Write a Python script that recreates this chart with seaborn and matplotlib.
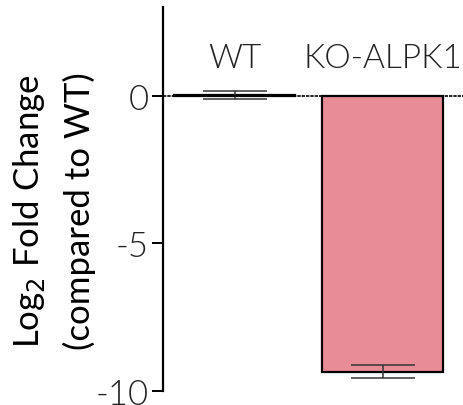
import matplotlib
matplotlib.use("Agg")
import matplotlib.pyplot as plt
import pandas as pd
import seaborn as sns

groups = ["WT", "KO-ALPK1"]
log2_fc = [0.03, -9.35]
err = [0.14, 0.22]
bar_colors = ["#ffffff", "#e88d98"]

sns.set_style("ticks")
plt.rcParams["font.family"] = ["Lato", "DejaVu Sans"]
plt.rcParams["text.color"] = "black"
plt.rcParams["ytick.color"] = "black"

df = pd.DataFrame({"group": groups, "value": log2_fc})

fig = plt.figure(figsize=(4.64, 4.06), dpi=100)
ax = fig.add_axes([0.351, 0.0345, 0.649, 0.946])

sns.barplot(data=df, x="group", y="value", hue="group", palette=bar_colors,
            saturation=1, width=0.82, edgecolor="black", linewidth=1.6,
            errorbar=None, legend=False, ax=ax)
ax.errorbar(range(len(groups)), log2_fc, yerr=err, fmt="none",
            ecolor="#333333", elinewidth=1.1, capsize=22.7, capthick=1.1)
ax.axhline(0, color="black", lw=1.2, ls=(0, (2, 0.6)), zorder=3)

for i, g in enumerate(groups):
    ax.text(i, 1.27, g, ha="center", va="center", fontsize=24,
            fontweight=300, color="#222222")

ax.set_xlim(-0.486, 1.55)
ax.set_ylim(-10, 3)
ax.set_yticks([0, -5, -10])
ax.set_yticklabels(["0", "-5", "-10"], fontsize=25, fontweight=300,
                   color="#222222")
ax.set_xticks([])
ax.set_xlabel("")
ax.set_ylabel("Log$_2$ Fold Change\n(compared to WT)", fontsize=25,
              linespacing=1.6, color="black")
ax.yaxis.set_label_coords(-0.222, 0.47)
ax.tick_params(axis="y", length=8, width=1.4, pad=2)
ax.spines["left"].set_linewidth(1.6)
ax.spines["left"].set_color("black")
ax.spines["left"].set_bounds(-10, 3)
sns.despine(ax=ax, bottom=True)

fig.savefig("out.png", dpi=100)
